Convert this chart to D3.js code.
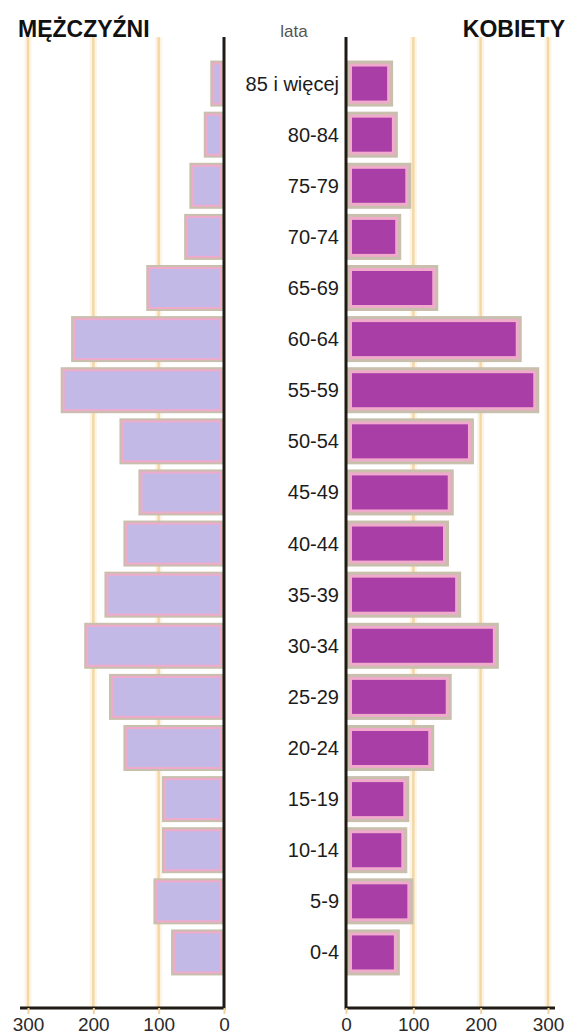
<!DOCTYPE html>
<html>
<head>
<meta charset="utf-8">
<script src="https://cdn.jsdelivr.net/npm/d3@7"></script>
<style>
  body { margin: 0; background: #fff; }
  svg { display: block; font-family: "Liberation Sans", Arial, sans-serif; }
</style>
</head>
<body>
<svg id="chart" width="567" height="1034"></svg>
<script>
// age groups, top to bottom
var ages = ["85 i więcej", "80-84", "75-79", "70-74", "65-69", "60-64", "55-59", "50-54",
            "45-49", "40-44", "35-39", "30-34", "25-29", "20-24", "15-19", "10-14", "5-9", "0-4"];
var men   = [21, 31, 53, 61, 119, 234, 250, 160, 131, 154, 183, 214, 176, 154, 95, 95, 108, 81];
var women = [70, 77, 97, 82, 137, 261, 287, 190, 160, 153, 171, 227, 157, 131, 94, 91, 100, 80];
var ticks = [0, 100, 200, 300];

var svg = d3.select("#chart");

var xL = d3.scaleLinear().domain([0, 300]).range([224, 28]);
var xR = d3.scaleLinear().domain([0, 300]).range([346, 548]);
var y = d3.scaleBand().domain(ages).range([58, 978]).paddingInner(0.1).paddingOuter(0.05);

var yTop = 37, yBase = 1008;

///////////////////////////////////////////////////////////////////////////////
// grid lines

function grid(scale) {
  var g = svg.append("g");
  var vals = ticks.filter(function (t) { return t > 0; });
  g.selectAll("line.halo").data(vals).enter().append("line")
    .attr("x1", scale).attr("x2", scale).attr("y1", yTop).attr("y2", yBase)
    .attr("stroke", "#fdf4e4").attr("stroke-width", 7);
  g.selectAll("line.core").data(vals).enter().append("line")
    .attr("x1", scale).attr("x2", scale).attr("y1", yTop).attr("y2", yBase)
    .attr("stroke", "#f5d8a6").attr("stroke-width", 2.5);
}
grid(xL);
grid(xR);

///////////////////////////////////////////////////////////////////////////////
// bars: tan frame, pink band, coloured core

function bars(data, scale, left, core, inset) {
  var g = svg.append("g");
  var sel = g.selectAll("g").data(data).enter().append("g");
  var x0 = function (d) { return left ? scale(d) : scale(0); };
  var w = function (d) { return Math.abs(scale(d) - scale(0)); };
  sel.append("rect")
    .attr("x", x0).attr("width", w)
    .attr("y", function (d, i) { return y(ages[i]); })
    .attr("height", y.bandwidth())
    .attr("fill", "#c8bfad");
  sel.append("rect")
    .attr("x", function (d) { return x0(d) + inset[0]; })
    .attr("width", function (d) { return Math.max(0, w(d) - 2 * inset[0]); })
    .attr("y", function (d, i) { return y(ages[i]) + inset[0]; })
    .attr("height", y.bandwidth() - 2 * inset[0])
    .attr("fill", "#f0aacb");
  sel.append("rect")
    .attr("x", function (d) { return x0(d) + inset[1]; })
    .attr("width", function (d) { return Math.max(0, w(d) - 2 * inset[1]); })
    .attr("y", function (d, i) { return y(ages[i]) + inset[1]; })
    .attr("height", y.bandwidth() - 2 * inset[1])
    .attr("fill", core);
}
bars(men, xL, true, "#c3b9e6", [2, 4]);
bars(women, xR, false, "#a83ea6", [3, 6]);

///////////////////////////////////////////////////////////////////////////////
// axes

function axis(scale, overshoot) {
  svg.append("path")
    .attr("d", "M" + scale(0) + "," + yTop + "V" + yBase + "H" + (scale(300) + overshoot))
    .attr("fill", "none").attr("stroke", "#1f1a14").attr("stroke-width", 3);
  var ax = svg.append("g")
    .attr("transform", "translate(0," + yBase + ")")
    .call(d3.axisBottom(scale).tickValues(ticks).tickSize(6).tickPadding(4));
  ax.select(".domain").remove();
  ax.selectAll(".tick line").attr("stroke", "#f0d2a0").attr("stroke-width", 2);
  ax.selectAll(".tick text")
    .attr("font-size", 19).attr("fill", "#2a2a2a")
    .attr("font-family", "Liberation Sans, Arial, sans-serif");
}
axis(xL, -8);
axis(xR, 7);

///////////////////////////////////////////////////////////////////////////////
// labels

svg.append("g").selectAll("text").data(ages).enter().append("text")
  .attr("x", 339)
  .attr("y", function (d) { return y(d) + y.bandwidth() / 2 + 7; })
  .attr("text-anchor", "end")
  .attr("font-size", 20)
  .attr("fill", "#1c1c1c")
  .text(function (d) { return d; });

svg.append("text").attr("x", 18).attr("y", 37)
  .attr("font-size", 23).attr("font-weight", "bold").attr("fill", "#111")
  .text("MĘŻCZYŹNI");
svg.append("text").attr("x", 565).attr("y", 37).attr("text-anchor", "end")
  .attr("font-size", 23).attr("font-weight", "bold").attr("fill", "#111")
  .text("KOBIETY");
svg.append("text").attr("x", 294).attr("y", 37).attr("text-anchor", "middle")
  .attr("font-size", 17).attr("fill", "#555")
  .text("lata");
</script>
</body>
</html>
